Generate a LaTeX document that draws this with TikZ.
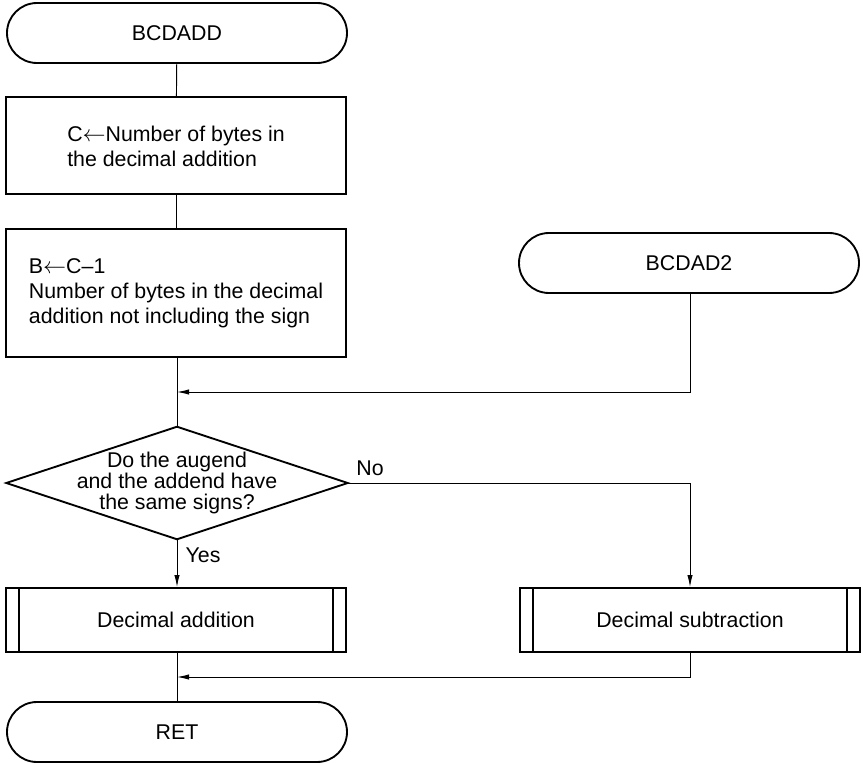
\documentclass[tikz,border=0pt]{standalone}
\usepackage{fontspec}
\setmainfont{Liberation Sans}
\usetikzlibrary{arrows.meta}
\begin{document}
\begin{tikzpicture}[x=0.75pt,y=-0.75pt,
  font=\fontsize{16pt}{18.75pt}\selectfont,
  term/.style={draw,line width=1.4pt,rounded corners=22.5pt,minimum width=255pt,minimum height=45pt,inner sep=0pt},
  procbox/.style={draw,line width=1.4pt,minimum width=255pt,inner sep=0pt,align=left},
  predef/.style={draw,line width=1.4pt,minimum width=255pt,minimum height=48pt,inner sep=0pt},
  decide/.style={minimum width=255.75pt,minimum height=84pt,inner sep=0pt,align=center,font=\fontsize{16pt}{16pt}\selectfont},
  conn/.style={line width=0.7pt},
  arr/.style={conn,-{Latex[length=9pt,width=4pt]}},
  lbl/.style={inner sep=0pt}
]
\useasboundingbox (0,0) rectangle (863,763);
\node[term] (start) at (177,33) {BCDADD};
\node[procbox,minimum height=72.75pt] (b1) at (176,145.5) {\rule{0pt}{0pt}\\[-6pt]C$\leftarrow$Number of bytes in\\the decimal addition};
\node[procbox,minimum height=96pt] (b2) at (176,293) {B$\leftarrow$C–1\\Number of bytes in the decimal\\addition not including the sign};
\node[term] (ent2) at (689,263) {BCDAD2};
\node[decide] (dec) at (177,483) {Do the augend\\and the addend have\\the same signs?};
\draw[line width=1.4pt,line join=miter] (dec.west) -- (dec.north) -- (dec.east) -- (dec.south) -- cycle;
\node[predef] (add) at (176,620) {Decimal addition};
\node[predef] (sub) at (690,620) {Decimal subtraction};
\node[term] (ret) at (177,732) {RET};
\foreach \n in {add,sub}{
  \draw[line width=1.4pt] ([xshift=10.5pt]\n.north west) -- ([xshift=10.5pt]\n.south west);
  \draw[line width=1.4pt] ([xshift=-10.5pt]\n.north east) -- ([xshift=-10.5pt]\n.south east);
}
\coordinate (j1) at (177,392);
\coordinate (j2) at (177,677);
\draw[conn] (start) -- (b1);
\draw[conn] (b1) -- (b2);
\draw[conn] (b2.south -| dec.north) -- (dec.north);
\draw[arr] (ent2.south -| 690,0) |- (j1);
\draw[arr] (dec.east) -| (sub.north);
\draw[arr] (dec.south) -- (add.north -| dec.south);
\draw[conn] (add.south -| dec.south) -- (ret);
\draw[arr] (sub.south) |- (j2);
\node[lbl] (no) at (370,468) {No};
\node[lbl] (yes) at (203,555) {Yes};
\end{tikzpicture}
\end{document}
